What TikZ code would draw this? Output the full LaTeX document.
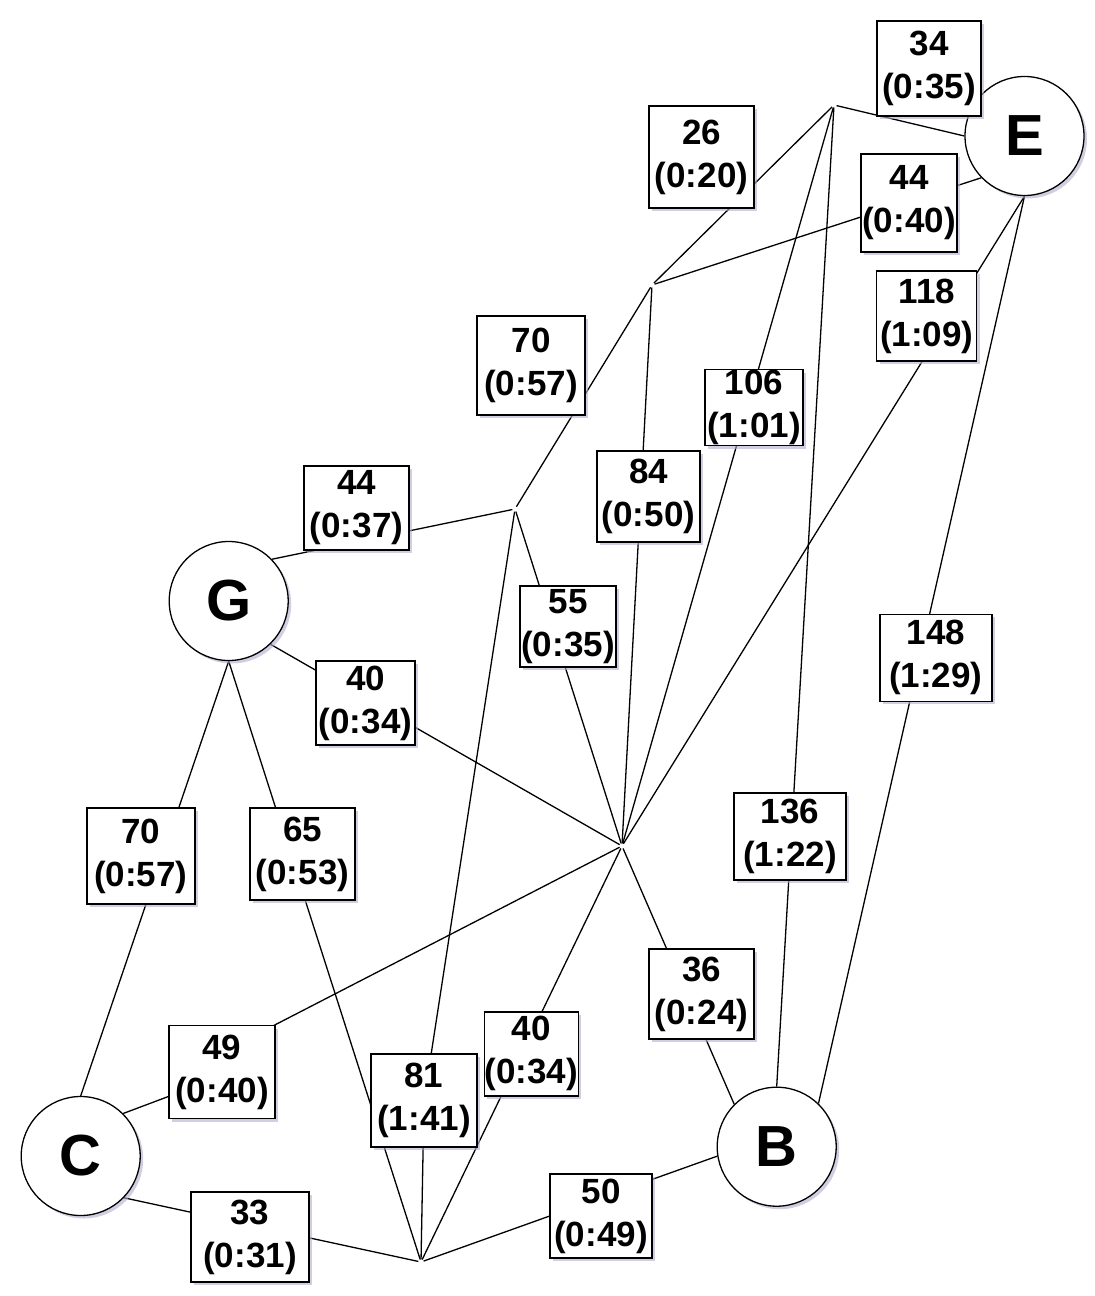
\documentclass[tikz,border=0pt]{standalone}
\usepackage{fontspec}
\setmainfont{Liberation Sans}
\usetikzlibrary{shadows,backgrounds}
\definecolor{shadowc}{RGB}{175,175,205}
\tikzset{
  lbl/.style={draw, fill=white, line width=1.4pt, align=center, inner sep=0pt,
    font=\fontsize{35}{43}\selectfont\bfseries,
    drop shadow={fill=shadowc, opacity=0.6, shadow xshift=3pt, shadow yshift=-3pt}},
  city/.style={circle, draw, fill=white, line width=1.3pt, minimum size=119pt, inner sep=0pt,
    font=\fontsize{58}{60}\selectfont\bfseries,
    drop shadow={fill=shadowc, opacity=0.6, shadow xshift=3pt, shadow yshift=-3pt}},
  jn/.style={circle, inner sep=0pt, minimum size=5pt},
  edge/.style={line width=1.3pt}
}
\begin{document}
\begin{tikzpicture}[x=1pt, y=-1pt]
\useasboundingbox (0,0) rectangle (1095,1296);
% cities
\node[city] (E) at (1024.5,136) {E};
\node[city] (G) at (228.7,601) {G};
\node[city] (C) at (80.7,1156) {C};
\node[city] (B) at (776.7,1146.7) {B};
% junctions
\node[jn] (J1) at (834,105) {};
\node[jn] (J2) at (652,285) {};
\node[jn] (J3) at (515,509) {};
\node[jn] (J4) at (622,846) {};
\node[jn] (J5) at (421,1262) {};
% labels
\node[lbl, minimum width=104, minimum height=95] (l1) at (929,68.5) {34\\(0:35)};
\node[lbl, minimum width=105, minimum height=102] (l2) at (701.5,157) {26\\(0:20)};
\node[lbl, minimum width=96, minimum height=98] (l3) at (909,203) {44\\(0:40)};
\node[lbl, minimum width=100, minimum height=90] (l4) at (926.7,316) {118\\(1:09)};
\node[lbl, minimum width=108, minimum height=99] (l5) at (531,365.5) {70\\(0:57)};
\node[lbl, minimum width=103, minimum height=91] (l6) at (648.5,496.5) {84\\(0:50)};
\node[lbl, minimum width=98, minimum height=76] (l7) at (754,407.5) {106\\(1:01)};
\node[lbl, minimum width=105, minimum height=84] (l8) at (356.5,508) {44\\(0:37)};
\node[lbl, minimum width=96, minimum height=81] (l9) at (568,626.5) {55\\(0:35)};
\node[lbl, minimum width=99, minimum height=84] (l10) at (365.5,703) {40\\(0:34)};
\node[lbl, minimum width=105, minimum height=92] (l11) at (302.5,854) {65\\(0:53)};
\node[lbl, minimum width=108, minimum height=96] (l12) at (140.8,856) {70\\(0:57)};
\node[lbl, minimum width=112, minimum height=87] (l13) at (790,836.5) {136\\(1:22)};
\node[lbl, minimum width=105, minimum height=90] (l14) at (701.5,994) {36\\(0:24)};
\node[lbl, minimum width=112, minimum height=87] (l15) at (935.8,657.7) {148\\(1:29)};
\node[lbl, minimum width=106, minimum height=93] (l16) at (222,1072) {49\\(0:40)};
\node[lbl, minimum width=118, minimum height=90] (l17) at (250,1237) {33\\(0:31)};
\node[lbl, minimum width=106, minimum height=93] (l18) at (424,1100.5) {81\\(1:41)};
\node[lbl, minimum width=94, minimum height=84] (l19) at (531.2,1053.8) {40\\(0:34)};
\node[lbl, minimum width=102, minimum height=84] (l20) at (601,1216) {50\\(0:49)};
\coordinate (b49a) at (175,1094);
\coordinate (b49b) at (265,1030);
% edges
\begin{pgfonlayer}{background}
\draw[edge] (J1) -- (E.180);
\draw[edge] (J1) -- (J2);
\draw[edge] (J2) -- (E.224);
\draw[edge] (E.270) -- (J4);
\draw[edge] (J2) -- (J3);
\draw[edge] (J2) -- (J4);
\draw[edge] (J1) -- (J4);
\draw[edge] (G.44) -- (J3);
\draw[edge] (J3) -- (J4);
\draw[edge] (G.314) -- (J4);
\draw[edge] (E.270) -- (B.46);
\draw[edge] (J1) -- (B.90);
\draw[edge] (G.270) -- (C.90);
\draw[edge] (G.270) -- (J5);
\draw[edge] (J4) -- (B.135);
\draw[edge] (C.45) -- (b49a) -- (b49b) -- (J4);
\draw[edge] (J3) -- (l18.center) -- (J5);
\draw[edge] (J4) -- (J5);
\draw[edge] (C.316) -- (J5);
\draw[edge] (J5) -- (B.189);
\end{pgfonlayer}
\end{tikzpicture}
\end{document}
